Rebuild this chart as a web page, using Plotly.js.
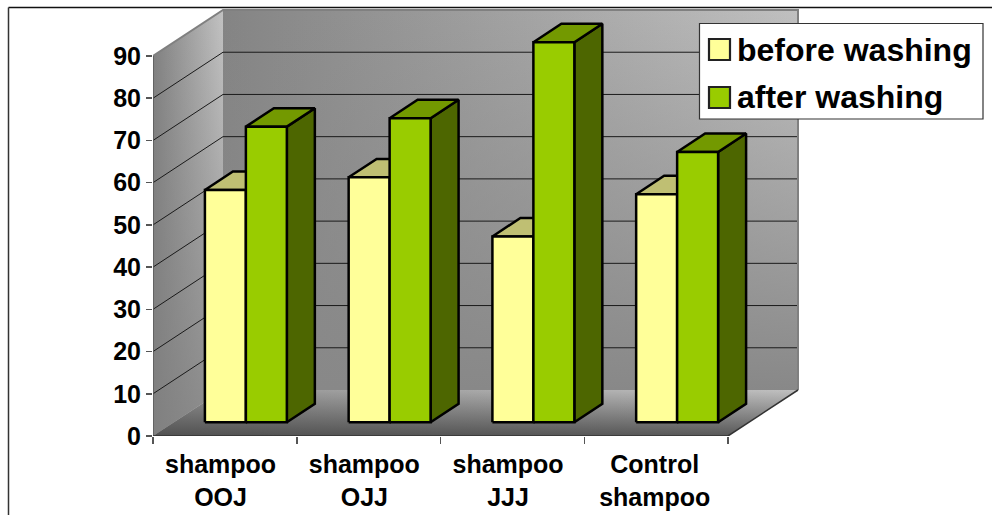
<!DOCTYPE html>
<html><head><meta charset="utf-8">
<script src="https://cdn.plot.ly/plotly-3.0.1.min.js"></script>
<style>html,body{margin:0;padding:0;background:#fff}</style></head>
<body><div id="chart" style="width:992px;height:515px"></div>
<script>
var categories = ['shampoo<br>OOJ', 'shampoo<br>OJJ', 'shampoo<br>JJJ', 'Control<br>shampoo'];
var labelPositions = [0.47, 1.47, 2.47, 3.49];
var before = [55, 58, 44, 54];
var after = [70, 72, 90, 64];
var seriesNames = ['before washing', 'after washing'];
var yTicks = [0, 10, 20, 30, 40, 50, 60, 70, 80, 90];
var catEdges = [0, 1, 2, 3, 4];

// page geometry of the projected box
var W = 992, H = 515, L = 153, B = 436, catPx = 143.75, valPx = 380 / 90;
var depthX = 70 / catPx, depthY = 46 / valPx;
function P(c, v, d) { return [c + d * depthX, v + d * depthY]; }
function poly(pts) {
  return { x: pts.map(function (p) { return p[0]; }), y: pts.map(function (p) { return p[1]; }) };
}
function px(x) { return (x - L) / (W - L); }
function py(y) { return (B - y) / B; }
var traces = [];
function grad(type, c0, c1) { return { type: type, colorscale: [[0, c0], [1, c1]] }; }
function fillPoly(pts, gradient, lineColor, lineWidth) {
  var q = poly(pts.concat([pts[0]]));
  var t = { type: 'scatter', mode: lineColor ? 'lines' : 'none', x: q.x, y: q.y, fill: 'toself', hoverinfo: 'skip', showlegend: false, cliponaxis: false };
  if (gradient.type) { t.fillgradient = gradient; } else { t.fillcolor = gradient; }
  if (lineColor) { t.line = { color: lineColor, width: lineWidth }; }
  traces.push(t);
}
function line(ptsList, color, width) {
  var xs = [], ys = [];
  ptsList.forEach(function (seg) {
    seg.forEach(function (p) { xs.push(p[0]); ys.push(p[1]); });
    xs.push(null); ys.push(null);
  });
  traces.push({ type: 'scatter', mode: 'lines', x: xs, y: ys, hoverinfo: 'skip', showlegend: false, cliponaxis: false, line: { color: color, width: width } });
}

var N = categories.length, V = yTicks[yTicks.length - 1];
// walls and floor
var back = [P(0, 0, 1), P(N, 0, 1), P(N, V, 1), P(0, V, 1)];
var side = [P(0, 0, 0), P(0, 0, 1), P(0, V, 1), P(0, V, 0)];
var floor = [P(0, 0, 0), P(N, 0, 0), P(N, 0, 1), P(0, 0, 1)];
fillPoly(back, grad('horizontal', '#848484', '#c0c0c0'));
fillPoly(back, grad('vertical', 'rgba(136,136,136,1)', 'rgba(136,136,136,0)'));
fillPoly(side, grad('horizontal', '#808080', '#c2c2c2'));
fillPoly(side, grad('vertical', 'rgba(128,128,128,0.8)', 'rgba(128,128,128,0)'));
fillPoly(floor, grad('horizontal', '#929292', '#c0c0c0'));
fillPoly(floor, grad('vertical', 'rgba(70,70,70,0.85)', 'rgba(70,70,70,0)'));

// gridlines
var grid = [];
yTicks.slice(1, -1).forEach(function (v) {
  grid.push([P(0, v, 0), P(0, v, 1), P(N, v, 1)]);
});
line(grid, '#1a1a1a', 1);
line([[P(0, V, 0), P(0, V, 1), P(N, V, 1), P(N, 0, 1)]], '#808080', 2);
line([[P(0, 0, 0), P(0, V, 0)]], '#5a5a5a', 1.5);
line([[P(0, 0, 0), P(N, 0, 0), P(N, 0, 1)]], '#333333', 1.5);

// bars
var d0 = 0.3, d1 = 0.7, bw = 0.285, gapL = 0.215;
function bar(c, i, v, front, top, sd) {
  var a = c + gapL + i * bw, b = a + bw;
  fillPoly([P(b, 0, d0), P(b, 0, d1), P(b, v, d1), P(b, v, d0)], sd, '#000', 2.5);
  fillPoly([P(a, v, d0), P(b, v, d0), P(b, v, d1), P(a, v, d1)], top, '#000', 2.5);
  fillPoly([P(a, 0, d0), P(b, 0, d0), P(b, v, d0), P(a, v, d0)], front, '#000', 2.5);
}
var yellow = ['#FFFF99', '#BFBF73', '#80804D'];
var green = ['#99CC00', '#739900', '#4D6600'];
for (var c = 0; c < N; c++) {
  bar(c, 0, before[c], yellow[0], yellow[1], yellow[2]);
  bar(c, 1, after[c], green[0], green[1], green[2]);
}

var font = 'Liberation Sans, Arial, sans-serif';
function hline(x0, y0, x1, y1, col, w) {
  return { type: 'line', xref: 'paper', yref: 'paper', x0: px(x0), y0: py(y0), x1: px(x1), y1: py(y1), layer: 'above', line: { color: col, width: w } };
}
function rect(x0, y0, x1, y1, fill, col, w) {
  return { type: 'rect', xref: 'paper', yref: 'paper', x0: px(x0), y0: py(y0), x1: px(x1), y1: py(y1), layer: 'above', fillcolor: fill, line: { color: col, width: w } };
}
var shapes = [
  hline(8.5, 7.5, 992, 7.5, '#111', 1.5),
  hline(8.5, 7.5, 8.5, 515, '#333', 1.5),
  rect(699.5, 23.5, 983, 119, '#fff', '#333', 1.2),
  rect(709, 39, 730, 60, yellow[0], '#222', 2.2),
  rect(709, 87, 730, 108, green[0], '#222', 2.2)
];
var annotations = seriesNames.map(function (name, i) {
  return { xref: 'paper', yref: 'paper', x: px(734.5), y: py(i === 0 ? 49.5 : 97), xanchor: 'left', yanchor: 'middle', text: '<b>' + name + '</b>', showarrow: false, font: { family: font, size: 32, color: '#000' } };
});

Plotly.newPlot('chart', traces, {
  width: W, height: H, showlegend: false,
  margin: { l: L, r: 0, t: 0, b: H - B, pad: 0 },
  paper_bgcolor: '#fff', plot_bgcolor: 'rgba(0,0,0,0)',
  xaxis: {
    range: [0, (W - L) / catPx], showgrid: false, zeroline: false, showline: false,
    tickmode: 'array', ticks: '', tickangle: 0,
    tickvals: labelPositions,
    ticktext: categories.map(function (s) { return '<b>' + s.replace('<br>', '</b><br><b>') + '</b>'; }),
    tickfont: { family: font, size: 25, color: '#000' }, ticklabelstandoff: 11,
    minor: { tickmode: 'array', tickvals: catEdges, ticks: 'outside', ticklen: 7, tickwidth: 1.5, tickcolor: '#555', showgrid: false }
  },
  yaxis: {
    range: [0, B / valPx], showgrid: false, zeroline: false, showline: false,
    tickmode: 'array', tickvals: yTicks, ticktext: yTicks.map(function (v) { return '<b>' + v + '</b>'; }),
    ticks: 'outside', ticklen: 6, tickwidth: 1.5, tickcolor: '#555',
    tickfont: { family: font, size: 25, color: '#000' }
  },
  shapes: shapes, annotations: annotations
}, { displayModeBar: false, staticPlot: true });
</script></body></html>
